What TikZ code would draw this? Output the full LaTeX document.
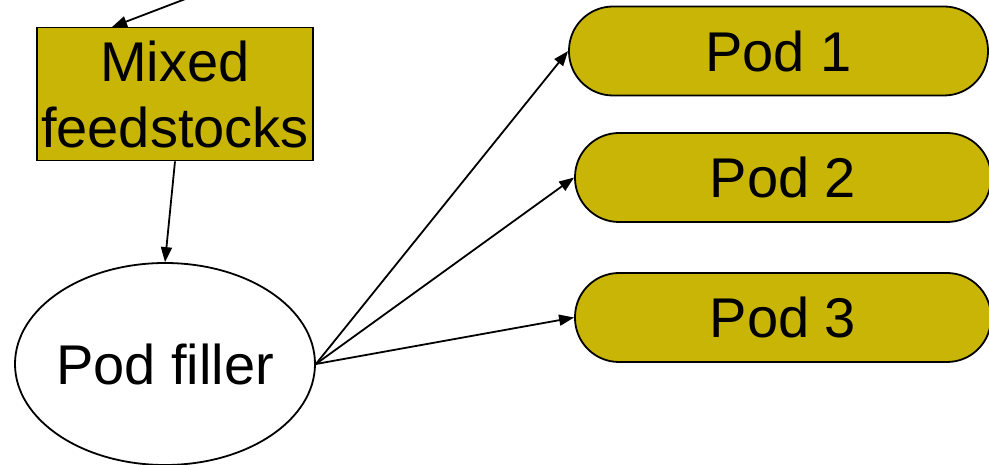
\documentclass[tikz,border=0pt]{standalone}
\usepackage{fontspec}
\setmainfont{Liberation Sans}
\usetikzlibrary{arrows.meta,shapes.geometric}
\definecolor{podfill}{RGB}{200,181,5}
\begin{document}
\begin{tikzpicture}[x=1pt,y=-1pt,
  every node/.style={font=\fontsize{56}{66}\selectfont, inner sep=0pt},
  boxnode/.style={draw=black, line width=1.8pt, fill=podfill, minimum width=276pt, minimum height=133pt, align=center},
  ellnode/.style={draw=black, line width=1.8pt, ellipse, inner xsep=-20pt, inner ysep=-20pt, minimum width=300pt, minimum height=202pt},
  podnode/.style={draw=black, line width=1.8pt, fill=podfill, rounded corners=44pt, minimum height=89pt},
  conn/.style={line width=1.8pt, -{Triangle[length=15pt,width=11pt]}}
]
\useasboundingbox (0,0) rectangle (989,465);
\node[boxnode] (mix) at (175,94) {Mixed\\feedstocks};
\node[ellnode] (fill) at (165,364) {Pod filler};
\node[podnode, minimum width=419pt] (pod1) at (778.5,51) {Pod 1};
\node[podnode, minimum width=416pt] (pod2) at (783,177.5) {Pod 2};
\node[podnode, minimum width=416pt] (pod3) at (783,317.5) {Pod 3};
\coordinate (src) at (188,-2);
\coordinate (mixin) at (112,27);
\draw[conn] (src) -- (mixin);
\draw[conn] (mix.south) -- (fill.north);
\draw[conn] (fill.east) -- (pod1.west);
\draw[conn] (fill.east) -- (pod2.west);
\draw[conn] (fill.east) -- (pod3.west);
\end{tikzpicture}
\end{document}
